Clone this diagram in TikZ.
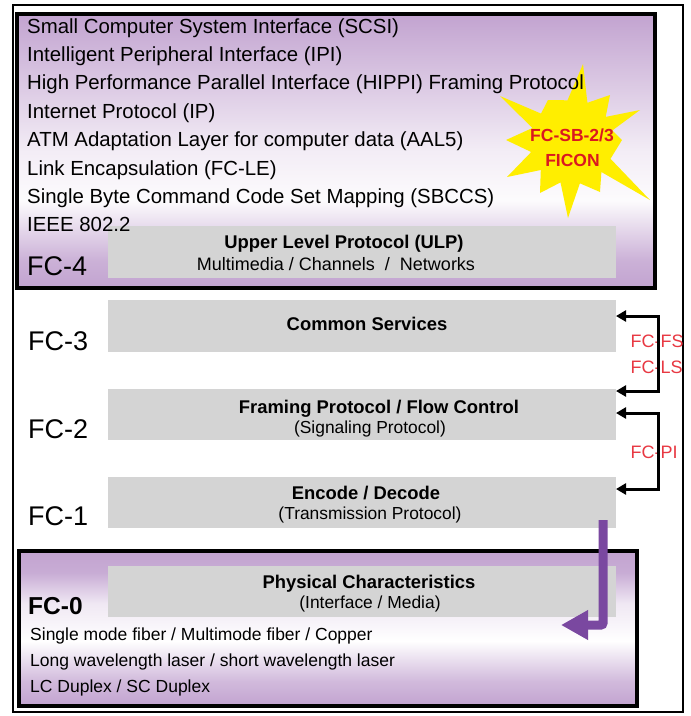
\documentclass[tikz,border=0pt]{standalone}
\usepackage{fontspec}
\setmainfont{Liberation Sans}
\usetikzlibrary{arrows.meta,calc}
\definecolor{lav}{RGB}{194,163,208}
\definecolor{gbox}{RGB}{212,212,212}
\definecolor{fcred}{RGB}{232,56,66}
\definecolor{starY}{RGB}{255,238,0}
\definecolor{arrP}{RGB}{122,72,160}
\definecolor{labred}{RGB}{218,24,32}
\pgfdeclareverticalshading{fcfourshade}{100bp}{color(0bp)=(lav); color(25bp)=(lav); color(30bp)=(lav!85!white); color(41bp)=(white!96!lav); color(50bp)=(white!80!lav); color(75bp)=(lav); color(100bp)=(lav)}
\pgfdeclareverticalshading{fczeroshade}{100bp}{color(0bp)=(lav); color(25bp)=(lav); color(33bp)=(lav!75!white); color(46bp)=(white); color(58bp)=(white!75!lav); color(68bp)=(lav!90!white); color(75bp)=(lav); color(100bp)=(lav)}
\tikzset{
  layerbox/.style={draw=black, line width=4pt, anchor=north west, inner sep=0pt, outer sep=0pt},
  graybox/.style={fill=gbox, draw=none, anchor=north west, inner sep=0pt, outer sep=0pt, minimum width=508pt},
  lst/.style={anchor=base west, inner sep=0pt, font=\fontsize{20.4}{24}\selectfont},
  phy/.style={anchor=base west, inner sep=0pt, font=\fontsize{17.5}{21}\selectfont},
  fclab/.style={anchor=base west, inner sep=0pt, font=\fontsize{27}{30}\selectfont},
  btitle/.style={anchor=base, inner sep=0pt, font=\fontsize{18.4}{22}\selectfont\bfseries},
  bsub/.style={anchor=base, inner sep=0pt, font=\fontsize{17.4}{21}\selectfont},
  redlab/.style={anchor=base west, inner sep=0pt, text=fcred, font=\fontsize{18}{21}\selectfont},
  brk/.style={draw=black, line width=3pt, {Triangle[length=10pt,width=11pt]}-{Triangle[length=10pt,width=11pt]}},
  parr/.style={draw=arrP, line width=9pt, -{Triangle[length=27pt,width=28pt]}},
}
\begin{document}
\begin{tikzpicture}[x=1pt,y=-1pt]
\useasboundingbox (0,0) rectangle (691,716);
\fill[white] (0,0) rectangle (691,716);
% outer frame
\draw[line width=1.2pt] (13,5) rectangle (683,712);

% FC-4 layer
\node[layerbox, shading=fcfourshade, minimum width=638pt, minimum height=274pt] (fc4) at (17,14) {};
% star
\fill[starY] (583,64) -- (587.4,102.8) -- (610,95) -- (605.7,116.9) -- (640,110) -- (612.4,130.4)
  -- (622,140) -- (610.5,158.8) -- (650,200) -- (601.4,172) -- (600,192) -- (579.9,183.3)
  -- (568,218) -- (560.5,182.4) -- (540,193) -- (540.8,170) -- (507,177) -- (531.2,152)
  -- (506,140) -- (532.4,128) -- (500,96) -- (541,113.6) -- (548,100) -- (567.5,100.3) -- cycle;
\node[anchor=base, inner sep=0pt, text=labred, font=\fontsize{17.5}{20}\selectfont\bfseries] (sb) at (572,141.5) {FC-SB-2/3};
\node[anchor=base, inner sep=0pt, text=labred, font=\fontsize{17.5}{20}\selectfont\bfseries] (ficon) at (572.5,166) {FICON};

\node[lst] (l1) at (27,33) {Small Computer System Interface (SCSI)};
\node[lst] (l2) at (27,61.4) {Intelligent Peripheral Interface (IPI)};
\node[lst] (l3) at (27,89.8) {High Performance Parallel Interface (HIPPI) Framing Protocol};
\node[lst] (l4) at (27,118.2) {Internet Protocol (IP)};
\node[lst] (l5) at (27,146.6) {ATM Adaptation Layer for computer data (AAL5)};
\node[lst] (l6) at (27,175) {Link Encapsulation (FC-LE)};
\node[lst] (l7) at (27,203.4) {Single Byte Command Code Set Mapping (SBCCS)};
\node[graybox, minimum height=52pt] (ulp) at (108,226) {};
\node[lst] (l8) at (27,231.8) {IEEE 802.2};
\node[btitle] (ulpt) at (344,248.5) {Upper Level Protocol (ULP)};
\node[bsub, font=\fontsize{18}{21}\selectfont] (ulps) at (336,270.5) {Multimedia / Channels \ / \ Networks};
\node[fclab] (n4) at (27,275) {FC-4};

% FC-3 .. FC-1
\node[graybox, minimum height=52pt] (cs) at (108,300) {};
\node[btitle] (cst) at (367,330.7) {Common Services};
\node[fclab] (n3) at (28,350) {FC-3};

\node[graybox, minimum height=51pt] (fp) at (108,389) {};
\node[btitle] (fpt) at (379,413.5) {Framing Protocol / Flow Control};
\node[bsub] (fps) at (370,433.5) {(Signaling Protocol)};
\node[fclab] (n2) at (28,438) {FC-2};

\node[graybox, minimum height=51pt] (ed) at (108,477) {};
\node[btitle] (edt) at (366,499.3) {Encode / Decode};
\node[bsub] (eds) at (370,519.5) {(Transmission Protocol)};
\node[fclab] (n1) at (28,525) {FC-1};

% bracket labels and brackets
\node[redlab] (fs) at (630.5,347) {FC-FS};
\node[redlab] (ls) at (630.5,373) {FC-LS};
\node[redlab] (pi) at (630.5,458) {FC-PI};
\draw[brk] ([yshift=-16pt]cs.north east) -- ++(42,0) |- ([yshift=-2pt]fp.north east);
\draw[brk] ([yshift=-24pt]fp.north east) -- ++(42,0) |- ([yshift=-12pt]ed.north east);

% FC-0 layer
\node[layerbox, shading=fczeroshade, minimum width=618pt, minimum height=155pt] (fc0) at (19,551) {};
\node[graybox, minimum height=51pt] (pc) at (108,566) {};
\node[btitle] (pct) at (369,588.3) {Physical Characteristics};
\node[bsub] (pcs) at (370,608.5) {(Interface / Media)};
\node[anchor=base west, inner sep=0pt, font=\fontsize{24.5}{28}\selectfont\bfseries] (n0) at (28,614) {FC-0};
\node[phy] (p1) at (30,640.5) {Single mode fiber / Multimode fiber / Copper};
\node[phy] (p2) at (30,666.3) {Long wavelength laser / short wavelength laser};
\node[phy] (p3) at (30,692) {LC Duplex / SC Duplex};

% purple arrow
\coordinate (pa) at ([xshift=-13pt,yshift=8pt]ed.south east);
\coordinate (ptip) at (561,625);
\draw[parr, rounded corners=2pt] (pa) |- (ptip);
\end{tikzpicture}
\end{document}
